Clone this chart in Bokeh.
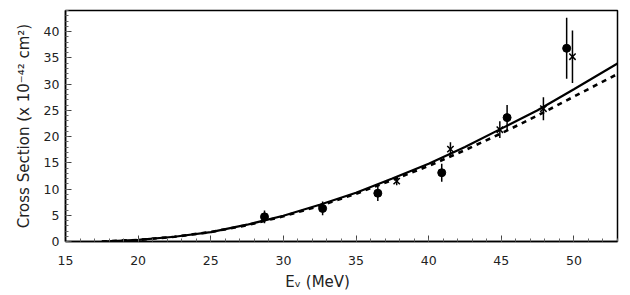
from bokeh.plotting import figure
from bokeh.embed import file_html
from bokeh.resources import INLINE
from bokeh.models import FixedTicker
import numpy as np

# Data
circ_e = [28.7, 32.7, 36.5, 40.9, 45.4, 49.5]
circ_s = [4.7, 6.3, 9.2, 13.1, 23.6, 36.8]
circ_err = [1.2, 1.3, 1.5, 1.7, 2.4, 5.8]

cross_e = [37.8, 41.5, 44.9, 47.9, 49.9]
cross_s = [11.5, 17.6, 21.3, 25.3, 35.2]
cross_err = [0.8, 1.3, 1.6, 2.2, 5.0]

solid_e = [17.5, 20, 22.5, 25, 27.5, 30, 32.5, 35, 37.5, 40, 42.5, 45, 47.5, 50, 53]
solid_s = [0.0, 0.3, 0.9, 1.8, 3.2, 4.9, 7.0, 9.3, 12.0, 14.8, 18.0, 21.5, 25.0, 29.0, 33.9]

dash_e = [17.5, 20, 22.5, 25, 27.5, 30, 32.5, 35, 37.5, 40, 42.5, 45, 47.5, 50, 53]
dash_s = [0.0, 0.3, 0.9, 1.8, 3.1, 4.8, 6.8, 9.1, 11.7, 14.4, 17.4, 20.6, 24.0, 27.6, 31.9]

x_ticks = [15, 20, 25, 30, 35, 40, 45, 50]
y_ticks = [0, 5, 10, 15, 20, 25, 30, 35, 40]

FONT = "DejaVu Sans"

p = figure(width=625, height=293, x_range=(15, 53), y_range=(0, 44),
           output_backend="svg", toolbar_location=None,
           min_border_left=65, min_border_right=8, min_border_top=10, min_border_bottom=52)

p.xgrid.visible = False
p.ygrid.visible = False
p.outline_line_color = "black"
p.outline_line_width = 1.5

p.xaxis.ticker = FixedTicker(ticks=x_ticks, minor_ticks=list(range(15, 54)))
p.yaxis.ticker = FixedTicker(ticks=y_ticks, minor_ticks=list(range(0, 45)))

for ax in (p.xaxis[0], p.yaxis[0]):
    ax.axis_line_color = "black"
    ax.axis_line_width = 1.5
    ax.major_tick_in = 6
    ax.major_tick_out = 0
    ax.minor_tick_in = 3
    ax.minor_tick_out = 0
    ax.major_tick_line_color = "#444444"
    ax.minor_tick_line_color = "#666666"
    ax.major_label_text_font = FONT
    ax.major_label_text_font_size = "12.5px"
    ax.major_label_text_color = "#222222"
    ax.axis_label_text_font = FONT
    ax.axis_label_text_font_size = "15px"
    ax.axis_label_text_font_style = "normal"
    ax.axis_label_text_color = "#222222"

p.yaxis.axis_label = "Cross Section (x 10\u207b\u2074\u00b2 cm\u00b2)"
# trailing no-break spaces shift the centred title left, as in the reference
p.xaxis.axis_label = "E\u1d65 (MeV)" + "\u00a0" * 10
p.xaxis.major_label_standoff = 14
p.xaxis.axis_label_standoff = 5
p.yaxis.major_label_standoff = 6
p.yaxis.axis_label_standoff = 8

p.line(solid_e, solid_s, line_color="black", line_width=2.2)
p.line(dash_e, dash_s, line_color="black", line_width=2.6, line_dash="5 5")

ce = np.array(circ_e); cs = np.array(circ_s); cr = np.array(circ_err)
p.segment(ce, cs - cr, ce, cs + cr, line_color="black", line_width=1.5)
p.scatter(circ_e, circ_s, marker="circle", size=8, fill_color="black", line_color="black")

xe = np.array(cross_e); xs = np.array(cross_s); xr = np.array(cross_err)
p.segment(xe, xs - xr, xe, xs + xr, line_color="black", line_width=1.5)
p.scatter(cross_e, cross_s, marker="x", size=9, line_color="black", line_width=1.5)

open("out.html", "w").write(file_html(p, INLINE))
